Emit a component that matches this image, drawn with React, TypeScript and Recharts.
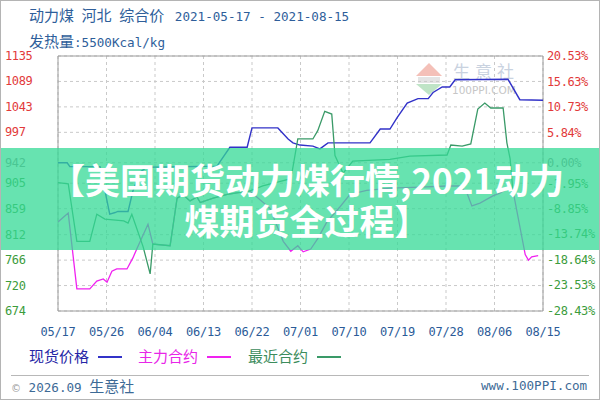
import React from 'react';
import { LineChart, Line, XAxis, YAxis, CartesianGrid, ReferenceArea } from 'recharts';

// ---- data ----
const dateTicks = [0, 9, 18, 27, 36, 45, 54, 63, 72, 81, 90]; // day offsets from 2021-05-17
const dateLabels = ['05/17', '05/26', '06/04', '06/13', '06/22', '07/01', '07/10', '07/19', '07/28', '08/06', '08/15'];
const leftTicks = [674, 720, 766, 812, 859, 905, 942, 997, 1043, 1089, 1135];
const rightTicks = [-28.43, -23.53, -18.64, -13.74, -8.85, -3.95, 0, 5.84, 10.73, 15.63, 20.53];
const basePrice = 942;

const spotDays = [0, 1.7, 2.2, 7.8, 9.6, 10.6, 11.1, 13.0, 13.9, 15.2, 16.5, 29.5, 31.9, 35.1, 36.0, 40.8, 42.7, 43.6, 44.9, 47.3, 48.6, 50.1, 57.9, 59.8, 61.6, 62.9, 64.8, 66.8, 68.7, 69.6, 71.3, 72.7, 73.7, 83.5, 85.7, 90];
const spotPrices = [942, 942, 935, 935, 849, 852, 854, 854, 891, 925, 934, 936, 970, 970, 1005, 1005, 985, 978, 974, 972, 967, 978, 978, 1003, 1003, 1023, 1050, 1058, 1058, 1069, 1079, 1079, 1092, 1093, 1056, 1055];

const mainDays = [0, 1.9, 3.5, 5.9, 7.2, 8.4, 9.1, 10.0, 10.9, 12.8, 13.9, 14.7, 16.7, 17.6, 20.8, 22.1, 23.2, 24.5, 25.8, 26.4, 28.8, 31.4, 35.6, 39.3, 41.8, 43.2, 44.5, 45.5, 46.9, 48.2, 49.9, 52.3, 54.2, 57.3, 61.6, 67.2, 72.2, 74.6, 75.9, 76.8, 78.3, 80.7, 82.0, 83.3, 84.4, 86.7, 87.3, 87.9, 89.1];
const mainPrices = [835, 851, 714, 714, 728, 732, 726, 746, 750, 750, 770, 788, 831, 795, 792, 878, 884, 873, 880, 870, 878, 885, 891, 860, 800, 782, 792, 781, 786, 805, 835, 862, 885, 892, 896, 898, 900, 900, 887, 864, 869, 882, 887, 895, 893, 776, 766, 772, 774];

const nearDays = [0, 1.9, 3.5, 5.9, 7.2, 8.7, 12.2, 13.0, 13.7, 15.8, 17.1, 17.6, 20.8, 22.1, 23.2, 24.5, 25.8, 26.4, 28.8, 31.4, 35.6, 38.0, 42.7, 43.4, 44.5, 47.3, 48.2, 49.5, 50.8, 51.4, 52.9, 54.7, 61.6, 65.3, 72.2, 72.9, 75.0, 76.6, 77.9, 79.2, 80.3, 82.6, 83.3, 83.9, 84.4];
const nearPrices = [906, 904, 800, 800, 849, 840, 837, 833, 849, 790, 741, 795, 792, 878, 884, 873, 880, 870, 878, 885, 891, 900, 912, 923, 985, 985, 1000, 1035, 1030, 955, 923, 945, 948, 954, 956, 974, 972, 976, 1039, 1050, 1041, 1041, 978, 949, 893];

const seriesNames = ['现货价格', '主力合约', '最近合约'];
const seriesColors = ['#3232c8', '#f022f0', '#3a9a68'];
const legendTextColors = ['#2626a6', '#e826e8', '#3c8c5c'];

const zip = (days: number[], vals: number[]) => days.map((d, i) => ({ d, v: vals[i] }));
const spotData = zip(spotDays, spotPrices);
const mainData = zip(mainDays, mainPrices);
const nearData = zip(nearDays, nearPrices);

const RED = '#e23a3a';
const GREEN = '#3c9c3c';
const GRAY = '#8a8a8a';
const MONO = '"DejaVu Sans Mono", monospace';
const CJK = '"Noto Sans CJK SC", sans-serif';

const LeftTick = (p: any) => {
  const v = p.payload.value;
  const c = v > basePrice ? RED : v < basePrice ? GREEN : GRAY;
  return (
    <text x={5} y={p.y} dominantBaseline="central" textAnchor="start" fill={c} fontSize={12} letterSpacing={-0.4} fontFamily={MONO}>
      {v}
    </text>
  );
};

const RightTick = (p: any) => {
  const v = p.payload.value;
  const c = v > 0 ? RED : v < 0 ? GREEN : GRAY;
  return (
    <text x={547} y={p.y} dominantBaseline="central" textAnchor="start" fill={c} fontSize={12} letterSpacing={-0.4} fontFamily={MONO}>
      {v.toFixed(2) + '%'}
    </text>
  );
};

const DateTick = (p: any) => {
  const i = dateTicks.indexOf(p.payload.value);
  return (
    <text x={p.x} y={p.y + 19} dominantBaseline="central" textAnchor="middle" fill="#2b5b98" fontSize={12} letterSpacing={-0.2} fontFamily={MONO}>
      {dateLabels[i]}
    </text>
  );
};

const abs = (extra: React.CSSProperties): React.CSSProperties => ({ position: 'absolute', ...extra });

export default function App() {
  const titleColor = '#2e5e9a';
  const legendX = [29, 138, 248];
  return (
    <div style={abs({ left: 0, top: 0, width: 600, height: 400, background: '#fff', overflow: 'hidden' })}>
      {/* watermark */}
      <div style={abs({ left: 416, top: 63, width: 0, height: 0, borderLeft: '13px solid transparent', borderRight: '13px solid transparent', borderBottom: '13px solid #f4c0b8' })} />
      <div style={abs({ left: 418, top: 77, width: 22, height: 6, background: '#e4e4e4' })} />
      <div style={abs({ left: 416, top: 84, width: 0, height: 0, borderLeft: '13px solid transparent', borderRight: '13px solid transparent', borderTop: '11px solid #bfe4c6' })} />
      <div style={abs({ left: 453, top: 60, fontFamily: CJK, fontSize: 17, color: '#c9d2df', letterSpacing: 5, lineHeight: '22px' })}>生意社</div>
      <div style={abs({ left: 452, top: 84, fontFamily: '"DejaVu Sans", sans-serif', fontSize: 10.5, color: '#c6c6c6', lineHeight: '12px' })}>100PPI.COM</div>

      <div style={abs({ left: 0, top: 0 })}>
        <LineChart width={600} height={400} data={spotData} margin={{ top: 56, right: 2, bottom: 59, left: 5 }}>
          <CartesianGrid xAxisId="x" yAxisId="left" stroke="#c9c9c9" strokeDasharray="3 3" />
          <XAxis
            xAxisId="x"
            dataKey="d"
            type="number"
            domain={[0, 90]}
            ticks={dateTicks}
            interval={0}
            allowDataOverflow
            tick={DateTick}
            tickLine={false}
            axisLine={false}
            tickSize={0}
            height={30}
          />
          <YAxis
            yAxisId="left"
            orientation="left"
            type="number"
            domain={[674, 1135]}
            ticks={leftTicks}
            interval={0}
            allowDataOverflow
            width={53}
            tick={LeftTick}
            tickLine={false}
            axisLine={false}
          />
          <YAxis
            yAxisId="right"
            orientation="right"
            type="number"
            domain={[-28.43, 20.53]}
            ticks={rightTicks}
            interval={0}
            allowDataOverflow
            width={55}
            tick={RightTick}
            tickLine={false}
            axisLine={false}
          />
          <ReferenceArea xAxisId="x" yAxisId="left" x1={0} x2={90} y1={674} y2={1135} fill="none" stroke="#9c9c9c" strokeWidth={1} />
          <Line xAxisId="x" yAxisId="left" data={spotData} dataKey="v" name={seriesNames[0]} stroke={seriesColors[0]} strokeWidth={1.4} dot={false} isAnimationActive={false} />
          <Line xAxisId="x" yAxisId="left" data={mainData} dataKey="v" name={seriesNames[1]} stroke={seriesColors[1]} strokeWidth={1.3} dot={false} isAnimationActive={false} />
          <Line xAxisId="x" yAxisId="left" data={nearData} dataKey="v" name={seriesNames[2]} stroke={seriesColors[2]} strokeWidth={1.3} dot={false} isAnimationActive={false} />
        </LineChart>
      </div>

      {/* title */}
      <div style={abs({ left: 29, top: 5, lineHeight: '20px', color: titleColor, whiteSpace: 'pre' })}>
        <span style={{ fontFamily: CJK, fontSize: 15 }}>动力煤</span>
        <span style={{ fontFamily: MONO, fontSize: 12.6 }}> </span>
        <span style={{ fontFamily: CJK, fontSize: 15 }}>河北</span>
        <span style={{ fontFamily: MONO, fontSize: 12.6 }}> </span>
        <span style={{ fontFamily: CJK, fontSize: 15 }}>综合价</span>
        <span style={{ fontFamily: MONO, fontSize: 12.6, paddingLeft: 3 }}> 2021-05-17 - 2021-08-15</span>
      </div>
      <div style={abs({ left: 29, top: 31, lineHeight: '20px', color: titleColor, whiteSpace: 'pre' })}>
        <span style={{ fontFamily: CJK, fontSize: 15 }}>发热量</span>
        <span style={{ fontFamily: MONO, fontSize: 12.6 }}>:5500Kcal/kg</span>
      </div>

      {/* legend */}
      {seriesNames.map((n, i) => (
        <React.Fragment key={n}>
          <div style={abs({ left: legendX[i], top: 345, lineHeight: '22px', fontFamily: CJK, fontSize: 15, color: legendTextColors[i] })}>{n}</div>
          <div style={abs({ left: legendX[i] + 69, top: 356, width: 24, height: 1.5, background: seriesColors[i] })} />
        </React.Fragment>
      ))}

      {/* footer */}
      <div style={abs({ left: 11, top: 375, width: 578, height: 1, background: '#b8b8b8' })} />
      <div style={abs({ left: 11, top: 376, lineHeight: '20px', whiteSpace: 'pre', color: '#3d6a96' })}>
        <span style={{ fontFamily: '"DejaVu Sans", sans-serif', fontSize: 10, color: '#9a9a9a' }}>©</span>
        <span style={{ fontFamily: MONO, fontSize: 12.6 }}> 2026.09 </span>
        <span style={{ fontFamily: CJK, fontSize: 15 }}>生意社</span>
      </div>
      <div style={abs({ left: 481, top: 376, lineHeight: '20px', whiteSpace: 'pre', color: '#3d6a96', fontFamily: MONO, fontSize: 12.6 })}>www.100PPI.com</div>

      {/* overlay banner */}
      <div style={abs({ left: 0, top: 148, width: 600, height: 102, background: 'rgba(52,217,150,0.75)' })} />
      <div style={abs({ left: 7, top: 158, width: 600, textAlign: 'center', fontFamily: CJK, fontWeight: 700, fontSize: 35, lineHeight: '41px', color: '#ffffff', whiteSpace: 'pre' })}>
        {'【美国期货动力煤行情,2021动力\n煤期货全过程】'}
      </div>

      {/* outer frame */}
      <div style={abs({ left: 0, top: 0, width: 598, height: 398, border: '1px solid #b4b4b4', pointerEvents: 'none' })} />
    </div>
  );
}
